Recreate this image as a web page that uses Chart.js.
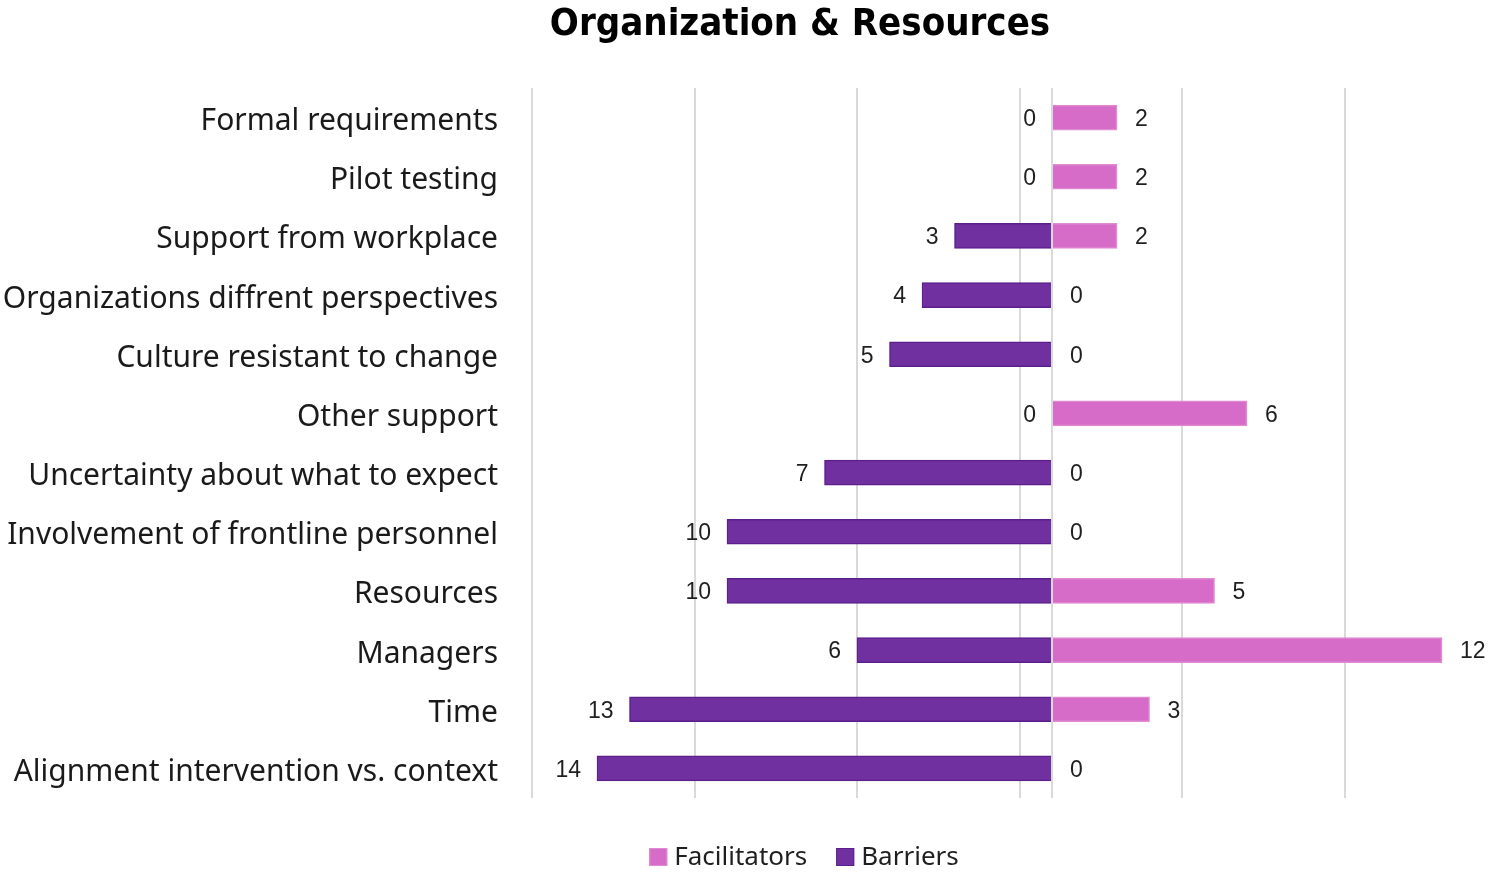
<!DOCTYPE html>
<html>
<head>
<meta charset="utf-8">
<script src="https://cdn.jsdelivr.net/npm/chart.js@4.4.0/dist/chart.umd.min.js"></script>
<style>
  html, body { margin: 0; padding: 0; overflow: hidden; background: #fff; }
  canvas { display: block; }
</style>
</head>
<body>
<canvas id="chart" width="1600" height="873" style="width:1600px;height:873px"></canvas>
<script>
// categories top to bottom
const categories = [
    'Formal requirements',
    'Pilot testing',
    'Support from workplace',
    'Organizations diffrent perspectives',
    'Culture resistant to change',
    'Other support',
    'Uncertainty about what to expect',
    'Involvement of frontline personnel',
    'Resources',
    'Managers',
    'Time',
    'Alignment intervention vs. context'
];
const facilitators = [2, 2, 2, 0, 0, 6, 0, 0, 5, 12, 3, 0];
const barriers = [0, 0, 3, 4, 5, 0, 7, 10, 10, 6, 13, 14];
// vertical gridlines (value axis has no labels)
const gridTicks = [-16, -11, -6, -1, 0, 4, 9];

const PINK = '#d66cc7';
const PURPLE = '#7030a0';
const labelFont = '"Noto Sans", "Open Sans", sans-serif';

// value labels next to the bar ends
const valueLabels = {
    id: 'valueLabels',
    afterDatasetsDraw(chart) {
        const ctx = chart.ctx;
        const zero = chart.scales.x.getPixelForValue(0);
        ctx.save();
        ctx.font = '23px "Liberation Sans", Arial, sans-serif';
        ctx.fillStyle = '#1f1f1f';
        ctx.textBaseline = 'middle';
        chart.data.datasets.forEach((ds, i) => {
            const meta = chart.getDatasetMeta(i);
            meta.data.forEach((bar, j) => {
                const left = ds.side < 0;
                const end = ds.counts[j] === 0 ? zero : bar.x;
                ctx.textAlign = left ? 'right' : 'left';
                ctx.fillText(String(ds.counts[j]), left ? end - 16 : end + 18, bar.y + 2);
            });
        });
        ctx.restore();
    }
};

// legend drawn by hand so it can sit where the original is
const bottomLegend = {
    id: 'bottomLegend',
    afterDraw(chart) {
        const ctx = chart.ctx;
        ctx.save();
        ctx.font = '26px ' + labelFont;
        ctx.textBaseline = 'middle';
        ctx.textAlign = 'left';
        const items = chart.data.datasets.map(ds => ({ text: ds.label, color: ds.backgroundColor, border: ds.borderColor }));
        const box = 18, gapText = 7, gapItem = 29;
        let total = 0;
        items.forEach((it, k) => {
            it.w = box + gapText + ctx.measureText(it.text).width;
            total += it.w + (k ? gapItem : 0);
        });
        let x = 804 - total / 2;
        const y = 857;
        items.forEach(it => {
            ctx.fillStyle = it.color;
            ctx.fillRect(x, y - box / 2, box, box);
            ctx.strokeStyle = it.border;
            ctx.lineWidth = 1;
            ctx.strokeRect(x + 0.5, y - box / 2 + 0.5, box - 1, box - 1);
            ctx.fillStyle = '#1f1f1f';
            ctx.fillText(it.text, x + box + gapText, y + 1);
            x += it.w + gapItem;
        });
        ctx.restore();
    }
};

new Chart(document.getElementById('chart'), {
    type: 'bar',
    data: {
        labels: categories,
        datasets: [{
            label: 'Facilitators',
            data: facilitators,
            counts: facilitators,
            side: 1,
            backgroundColor: PINK,
            borderColor: '#e08ad4',
            borderWidth: 1.5,
            barThickness: 25
        }, {
            label: 'Barriers',
            data: barriers.map(v => -v),
            counts: barriers,
            side: -1,
            backgroundColor: PURPLE,
            borderColor: '#5c1f8c',
            borderWidth: 1.5,
            barThickness: 25
        }]
    },
    options: {
        indexAxis: 'y',
        responsive: false,
        animation: false,
        layout: { padding: 0 },
        scales: {
            x: {
                stacked: false,
                min: -16,
                max: 16.86,
                afterBuildTicks: scale => { scale.ticks = gridTicks.map(v => ({ value: v })); },
                afterFit: scale => { scale.height = 75; },
                grid: { color: '#d9d9d9', lineWidth: 2, drawTicks: false },
                border: { display: false },
                ticks: { display: false }
            },
            y: {
                stacked: true,
                afterFit: scale => { scale.width = 532; },
                grid: { display: false, drawTicks: false },
                border: { display: false },
                ticks: {
                    padding: 34,
                    labelOffset: 4,
                    color: '#1a1a1a',
                    font: { family: labelFont, size: 30 }
                }
            }
        },
        plugins: {
            legend: { display: false },
            tooltip: { enabled: false },
            title: {
                display: true,
                text: 'Organization & Resources',
                color: '#000',
                font: { family: '"Liberation Sans Narrow", "DejaVu Sans Condensed", sans-serif', size: 38, weight: 'bold', lineHeight: 1.1 },
                padding: { top: 4, bottom: 42.2 }
            }
        }
    },
    plugins: [valueLabels, bottomLegend]
});
</script>
</body>
</html>
